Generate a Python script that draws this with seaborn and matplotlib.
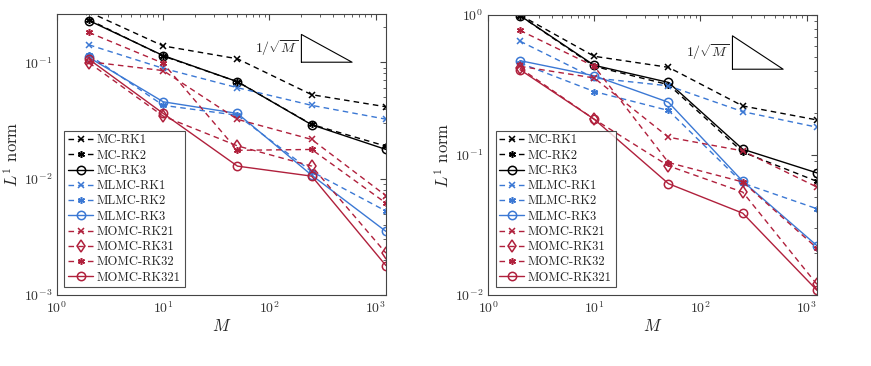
import numpy as np
import pandas as pd
import matplotlib
matplotlib.use("Agg")
import matplotlib.pyplot as plt
import seaborn as sns

# --- donnees ---
M = [2, 10, 50, 250, 1250]
labels = ["MC-RK1", "MC-RK2", "MC-RK3", "MLMC-RK1", "MLMC-RK2", "MLMC-RK3",
          "MOMC-RK21", "MOMC-RK31", "MOMC-RK32", "MOMC-RK321"]

# panneau gauche
left_MC_RK1 = [0.27, 0.138, 0.107, 0.0526, 0.0414]
left_MC_RK2 = [0.232, 0.113, 0.068, 0.0292, 0.019]
left_MC_RK3 = [0.228, 0.114, 0.068, 0.029, 0.0178]
left_MLMC_RK1 = [0.141, 0.0886, 0.0604, 0.0426, 0.0324]
left_MLMC_RK2 = [0.1155, 0.0426, 0.035, 0.0115, 0.00526]
left_MLMC_RK3 = [0.11, 0.0457, 0.0363, 0.0107, 0.00352]
left_MOMC_RK21 = [0.101, 0.0847, 0.0323, 0.0217, 0.00713]
left_MOMC_RK31 = [0.099, 0.0344, 0.0191, 0.0128, 0.00229]
left_MOMC_RK32 = [0.18, 0.098, 0.0175, 0.0178, 0.00616]
left_MOMC_RK321 = [0.106, 0.0363, 0.0128, 0.0105, 0.00179]

# panneau droit
right_MC_RK1 = [1.0, 0.507, 0.423, 0.224, 0.178]
right_MC_RK2 = [0.99, 0.43, 0.318, 0.105, 0.0648]
right_MC_RK3 = [0.99, 0.437, 0.33, 0.11, 0.0745]
right_MLMC_RK1 = [0.65, 0.355, 0.312, 0.204, 0.158]
right_MLMC_RK2 = [0.454, 0.284, 0.208, 0.063, 0.0413]
right_MLMC_RK3 = [0.472, 0.368, 0.238, 0.0649, 0.0225]
right_MOMC_RK21 = [0.43, 0.355, 0.134, 0.107, 0.059]
right_MOMC_RK31 = [0.418, 0.18, 0.0836, 0.0543, 0.0119]
right_MOMC_RK32 = [0.776, 0.43, 0.0883, 0.0642, 0.0216]
right_MOMC_RK321 = [0.407, 0.18, 0.0624, 0.0384, 0.0108]

left_data = [left_MC_RK1, left_MC_RK2, left_MC_RK3, left_MLMC_RK1, left_MLMC_RK2,
             left_MLMC_RK3, left_MOMC_RK21, left_MOMC_RK31, left_MOMC_RK32, left_MOMC_RK321]
right_data = [right_MC_RK1, right_MC_RK2, right_MC_RK3, right_MLMC_RK1, right_MLMC_RK2,
              right_MLMC_RK3, right_MOMC_RK21, right_MOMC_RK31, right_MOMC_RK32, right_MOMC_RK321]

# --- style ---
sns.set_style("white")
plt.rcParams['font.family'] = 'serif'
plt.rcParams['font.serif'] = ['cmr10', 'DejaVu Serif']
plt.rcParams['mathtext.fontset'] = 'cm'
plt.rcParams['axes.formatter.use_mathtext'] = True

black = "#000000"
blue = "#3b78d4"
red = "#b0203c"
asterisk = (6, 2, 0)
dash = (0, (4, 3))
styles = [
    (black, dash, 'x'),
    (black, dash, asterisk),
    (black, '-', 'o'),
    (blue, dash, 'x'),
    (blue, dash, asterisk),
    (blue, '-', 'o'),
    (red, dash, 'x'),
    (red, dash, 'd'),
    (red, dash, asterisk),
    (red, '-', 'o'),
]

fig = plt.figure(figsize=(8.71, 3.66), dpi=100)
ax1 = fig.add_axes([0.0654, 0.194, 0.3777, 0.768])
ax2 = fig.add_axes([0.5603, 0.194, 0.3777, 0.765])


def draw_panel(ax, data, ylim, tri_y):
    ax.set_xscale('log')
    ax.set_yscale('log')
    for lab, vals, (c, ls, mk) in zip(labels, data, styles):
        ms = 6 if mk in ('o', 'd') else 5
        sns.lineplot(x=M, y=vals, ax=ax, color=c, linestyle=ls, marker=mk,
                     markersize=ms, markerfacecolor='none', markeredgecolor=c,
                     markeredgewidth=1.1, linewidth=1.0, label=lab)
    # triangle de pente 1/sqrt(M)
    tx = [200, 200, 600, 200]
    ty = [tri_y, tri_y * np.sqrt(3), tri_y, tri_y]
    ax.plot(tx, ty, color='black', linewidth=0.8)
    ax.text(185, tri_y * 3 ** 0.25, r'$1/\sqrt{M}$', ha='right', va='center', fontsize=10)

    ax.set_xlim(1, 1250)
    ax.set_ylim(*ylim)
    ax.set_xlabel(r'$M$', fontsize=12, labelpad=2)
    ax.set_ylabel(r'$L^1$ norm', fontsize=12, labelpad=2)
    ax.tick_params(which='both', direction='in', top=True, right=True, labelsize=10,
                   labelcolor='#333333', color='#444444')
    ax.tick_params(which='major', length=4)
    ax.tick_params(which='minor', length=2)
    for sp in ax.spines.values():
        sp.set_color('#444444')
        sp.set_linewidth(0.8)
    leg = ax.legend(loc='lower left', fontsize=9, frameon=True, fancybox=False,
                    edgecolor='#222222', handlelength=2.0, labelspacing=0.25,
                    borderpad=0.3, handletextpad=0.3, borderaxespad=0.6)
    leg.get_frame().set_linewidth(0.8)


draw_panel(ax1, left_data, (1e-3, 0.26), 0.1)
draw_panel(ax2, right_data, (1e-2, 1.0), 0.41)

fig.savefig("out.png", dpi=100)
